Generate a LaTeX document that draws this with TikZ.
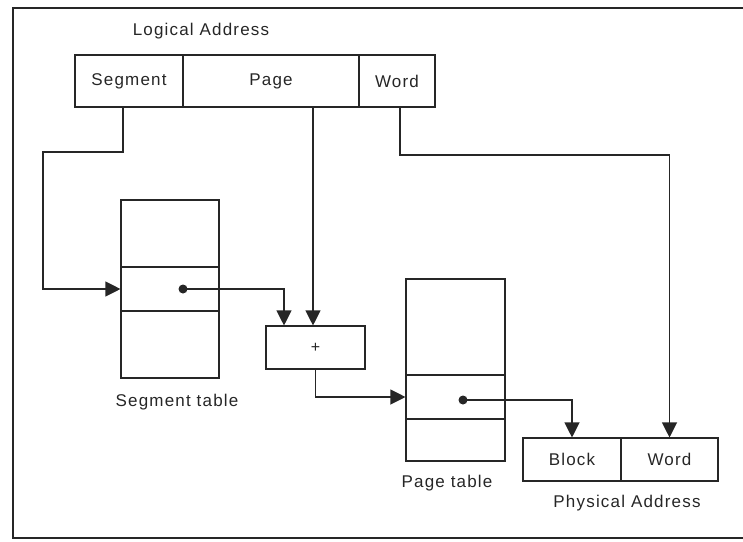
\documentclass[tikz,border=0pt]{standalone}
\usepackage{fontspec}
\setmainfont{Liberation Sans}[LetterSpace=7]
\usetikzlibrary{arrows.meta}
\begin{document}
\begin{tikzpicture}[x=1pt,y=-1pt,
  cell/.style={draw=black!85, line width=1.1pt, rectangle, inner sep=0pt, text=black!85,
    font=\fontsize{17}{20}\selectfont},
  lbl/.style={text=black!85, inner sep=0pt, font=\fontsize{17}{20}\selectfont},
  conn/.style={draw=black!85, line width=1.1pt},
  arr/.style={conn, -{Triangle[length=15pt,width=15pt]}},
  dotmark/.style={circle, fill=black!85, inner sep=0pt, minimum size=9pt}]
\useasboundingbox (0,0) rectangle (743,541);
\clip (0,0) rectangle (743,541);
\draw[conn] (13,8) rectangle (760,538);

% logical address
\node[lbl] (la) at (201,31) {Logical Address};
\node[cell, minimum width=108pt, minimum height=52pt] (seg) at (129,81) {Segment};
\node[cell, minimum width=176pt, minimum height=52pt] (page) at (271,81) {Page};
\node[cell, minimum width=76pt, minimum height=52pt] (word) at (397,81) {Word};

% segment table
\node[cell, minimum width=98pt, minimum height=67pt] (st1) at (170,233.5) {};
\node[cell, minimum width=98pt, minimum height=44pt] (st2) at (170,289) {};
\node[cell, minimum width=98pt, minimum height=67pt] (st3) at (170,344.5) {};
\node[lbl] (stl) at (177,402) {Segment table};

% adder
\node[cell, minimum width=99pt, minimum height=43pt, font=\fontsize{16}{18}\selectfont] (plus) at (315.5,347.5) {+};

% page table
\node[cell, minimum width=99pt, minimum height=96pt] (pt1) at (455.5,327) {};
\node[cell, minimum width=99pt, minimum height=44pt] (pt2) at (455.5,397) {};
\node[cell, minimum width=99pt, minimum height=42pt] (pt3) at (455.5,440) {};
\node[lbl] (ptl) at (447,483) {Page table};

% physical address
\node[cell, minimum width=98pt, minimum height=43pt] (block) at (572,459.5) {Block};
\node[cell, minimum width=97pt, minimum height=43pt] (pword) at (669.5,459.5) {Word};
\node[lbl] (pal) at (627,503) {Physical Address};

% dots and bends
\node[dotmark] (dot1) at (183,289) {};
\node[dotmark] (dot2) at (463,400) {};
\coordinate (segout) at ([xshift=-6pt]seg.south);
\coordinate (c1) at (43,152);
\coordinate (pagein) at ([xshift=-2.5pt]plus.north);
\coordinate (segin) at ([xshift=-31.5pt]plus.north);
\coordinate (wordout) at ([xshift=3pt]word.south);
\coordinate (c2) at (669.5,155);

% connectors
\draw[arr] (segout) |- (c1) |- (st2.west);
\draw[arr] (dot1.center) -| (segin);
\draw[arr] (page.south -| pagein) -- (pagein);
\draw[arr] (plus.south) |- (pt2.west);
\draw[arr] (dot2.center) -| (block.north);
\draw[arr] (wordout) |- (c2) -- (pword.north);
\end{tikzpicture}
\end{document}
